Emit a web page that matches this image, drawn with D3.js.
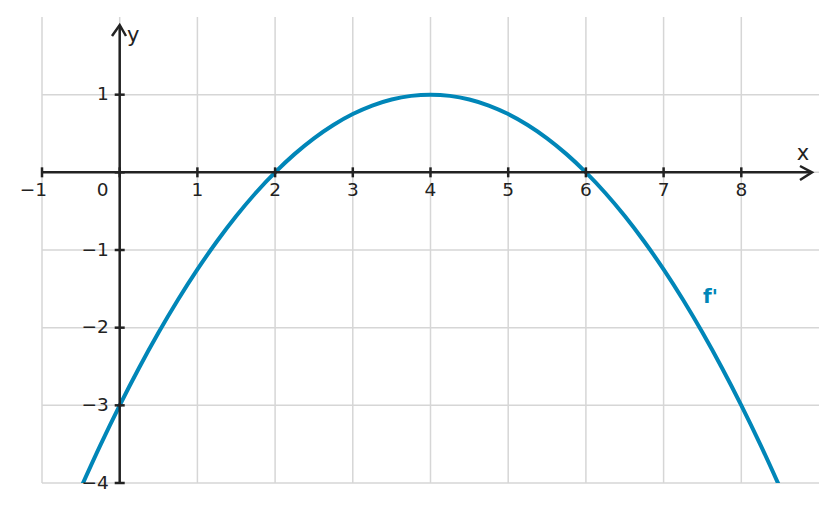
<!DOCTYPE html>
<html><head><meta charset="utf-8">
<script src="https://cdn.jsdelivr.net/npm/d3@7"></script>
<style>body{margin:0;background:#fff}svg{display:block}text{font-family:"DejaVu Sans",sans-serif}</style>
</head><body>
<script>
const xTicks = [-1,0,1,2,3,4,5,6,7,8];
const yTicks = [-4,-3,-2,-1,0,1];
const xLabels = ["−1","0","1","2","3","4","5","6","7","8"];
const yLabels = ["−4","−3","−2","−1","","1"];
const curveX = [-0.5,-0.25,0,0.25,0.5,0.75,1,1.25,1.5,1.75,2,2.25,2.5,2.75,3,3.25,3.5,3.75,4,4.25,4.5,4.75,5,5.25,5.5,5.75,6,6.25,6.5,6.75,7,7.25,7.5,7.75,8,8.25,8.5];
const curveY = [-4.0625,-3.5156,-3,-2.5156,-2.0625,-1.6406,-1.25,-0.8906,-0.5625,-0.2656,0,0.2344,0.4375,0.6094,0.75,0.8594,0.9375,0.9844,1,0.9844,0.9375,0.8594,0.75,0.6094,0.4375,0.2344,0,-0.2656,-0.5625,-0.8906,-1.25,-1.6406,-2.0625,-2.5156,-3,-3.5156,-4.0625];

const W=837,H=512;
const svg=d3.select("body").append("svg").attr("width",W).attr("height",H);
const x=d3.scaleLinear().domain([-1,9]).range([42,819]);
const y=d3.scaleLinear().domain([-4,2]).range([483,17]);
const axisCol="#222", gridCol="#d6d6d6", blue="#0086b8";

// grid
svg.append("g").selectAll("line").data(xTicks).join("line")
  .attr("x1",d=>x(d)).attr("x2",d=>x(d)).attr("y1",y(2)).attr("y2",y(-4))
  .attr("stroke",gridCol).attr("stroke-width",1.5);
svg.append("g").selectAll("line").data(yTicks).join("line")
  .attr("x1",x(-1)).attr("x2",x(9)).attr("y1",d=>y(d)).attr("y2",d=>y(d))
  .attr("stroke",gridCol).attr("stroke-width",1.5);

// curve
svg.append("clipPath").attr("id","clip").append("rect")
  .attr("x",x(-1)).attr("y",y(2)).attr("width",x(9)-x(-1)).attr("height",y(-4)-y(2));
const pts=curveX.map((v,i)=>[v,curveY[i]]);
svg.append("path").datum(pts).attr("clip-path","url(#clip)")
  .attr("d",d3.line().x(d=>x(d[0])).y(d=>y(d[1])).curve(d3.curveCatmullRom))
  .attr("fill","none").attr("stroke",blue).attr("stroke-width",4);

// axes
const x0=x(0), y0=y(0);
svg.append("line").attr("x1",x(-1)).attr("x2",812).attr("y1",y0).attr("y2",y0)
  .attr("stroke",axisCol).attr("stroke-width",2.5);
svg.append("line").attr("x1",x0).attr("x2",x0).attr("y1",y(-4)).attr("y2",25)
  .attr("stroke",axisCol).attr("stroke-width",2.5);
svg.append("path").attr("d",`M800,166L812,${y0}L800,180`).attr("fill","none")
  .attr("stroke",axisCol).attr("stroke-width",2.5).attr("stroke-linejoin","miter");
svg.append("path").attr("d",`M112,36L${x0},25L126,36`).attr("fill","none")
  .attr("stroke",axisCol).attr("stroke-width",2.5).attr("stroke-linejoin","miter");

// ticks
svg.append("g").selectAll("line").data(xTicks).join("line")
  .attr("x1",d=>x(d)).attr("x2",d=>x(d)).attr("y1",y0-5).attr("y2",y0+5)
  .attr("stroke",axisCol).attr("stroke-width",2.5);
svg.append("g").selectAll("line").data(yTicks).join("line")
  .attr("x1",x0-5).attr("x2",x0+5).attr("y1",d=>y(d)).attr("y2",d=>y(d))
  .attr("stroke",axisCol).attr("stroke-width",2.5);

// tick labels
svg.append("g").selectAll("text").data(xTicks).join("text")
  .attr("x",(d,i)=>d<0? x(d)+5 : d===0? x(d)-17 : x(d))
  .attr("y",y0+24)
  .attr("text-anchor",d=>d<0?"end":"middle")
  .attr("font-size",18.5).attr("fill",axisCol)
  .text((d,i)=>xLabels[i]);
svg.append("g").selectAll("text").data(yTicks).join("text")
  .attr("x",x0-11).attr("y",d=>y(d)+5.5)
  .attr("text-anchor","end").attr("font-size",18.5).attr("fill",axisCol)
  .text((d,i)=>yLabels[i]);

svg.append("text").attr("x",803).attr("y",160).attr("text-anchor","middle")
  .attr("font-size",21).attr("fill",axisCol).text("x");
svg.append("text").attr("x",127).attr("y",42)
  .attr("font-size",21).attr("fill",axisCol).text("y");
svg.append("text").attr("x",703).attr("y",303)
  .attr("font-size",20).attr("font-weight","bold").attr("fill",blue).text("f'");
</script>
</body></html>
